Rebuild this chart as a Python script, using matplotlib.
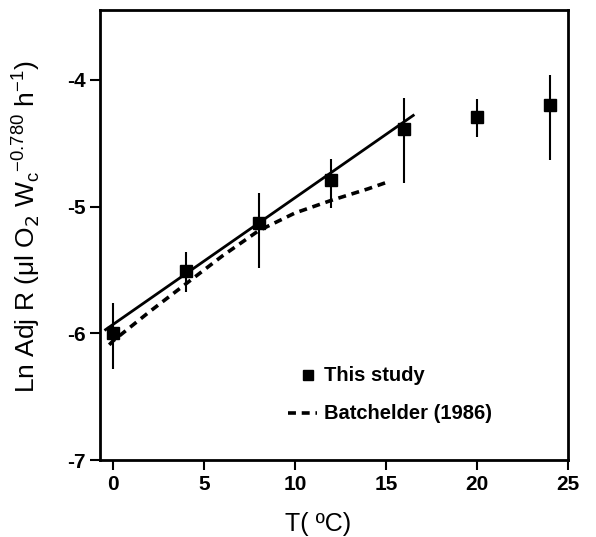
import numpy as np
import matplotlib.pyplot as plt

plt.rcParams['font.family'] = ['Liberation Sans', 'DejaVu Sans']
plt.rcParams['axes.unicode_minus'] = False

# This study: means and error bar limits
temp = [0, 4, 8, 12, 16, 20, 24]
ln_r = [-6.00, -5.51, -5.13, -4.79, -4.39, -4.29, -4.20]
err_hi = [-5.76, -5.36, -4.89, -4.62, -4.14, -4.15, -3.96]
err_lo = [-6.28, -5.67, -5.48, -5.01, -4.81, -4.45, -4.63]

# regression line over 0-16 C
fit_x = [-0.4, 16.5]
fit_y = [-5.97, -4.28]

# Batchelder (1986)
batch_x = [-0.2, 0, 2, 4, 6, 8, 10, 12, 14, 15]
batch_y = [-6.09, -6.06, -5.83, -5.61, -5.39, -5.19, -5.05, -4.95, -4.86, -4.81]

fig = plt.figure(figsize=(5.96, 5.37), dpi=100)
ax = fig.add_axes([0.168, 0.143, 0.785, 0.838])

y = np.array(ln_r)
yerr = [y - np.array(err_lo), np.array(err_hi) - y]
ax.errorbar(temp, ln_r, yerr=yerr, fmt='s', color='black', ms=8.5,
            elinewidth=1.5, capsize=0, zorder=3)
ax.plot(fit_x, fit_y, color='black', lw=2)
ax.plot(batch_x, batch_y, color='black', lw=2.6, dashes=(2.2, 1.6))

# legend drawn by hand to match the layout
ax.plot([10.7], [-6.33], 's', color='black', ms=7)
ax.text(11.6, -6.33, 'This study', fontsize=14.5, fontweight='bold', va='center')
ax.plot([9.6, 11.2], [-6.63, -6.63], color='black', lw=2.6, dashes=(2.2, 1.6))
ax.text(11.6, -6.63, 'Batchelder (1986)', fontsize=14.5, fontweight='bold', va='center')

ax.set_xlim(-0.7, 25)
ax.set_ylim(-7, -3.45)
ax.set_xticks([0, 5, 10, 15, 20, 25])
ax.set_yticks([-7, -6, -5, -4])
ax.tick_params(direction='out', length=7, width=1.5, labelsize=15)
for lab in ax.get_xticklabels() + ax.get_yticklabels():
    lab.set_fontweight('bold')
for s in ax.spines.values():
    s.set_linewidth(2)

ax.set_xlabel('T( ºC)', fontsize=18)
ax.xaxis.set_label_coords(0.466, -0.115)
ax.set_ylabel(r'Ln Adj R ($\mathregular{\mu}$l O$_2$ W$_\mathregular{c}$$^{\mathregular{-0.780}}$ h$^{\mathregular{-1}}$)',
              fontsize=19)
ax.yaxis.set_label_coords(-0.124, 0.52)

plt.savefig('out.png', dpi=100)
